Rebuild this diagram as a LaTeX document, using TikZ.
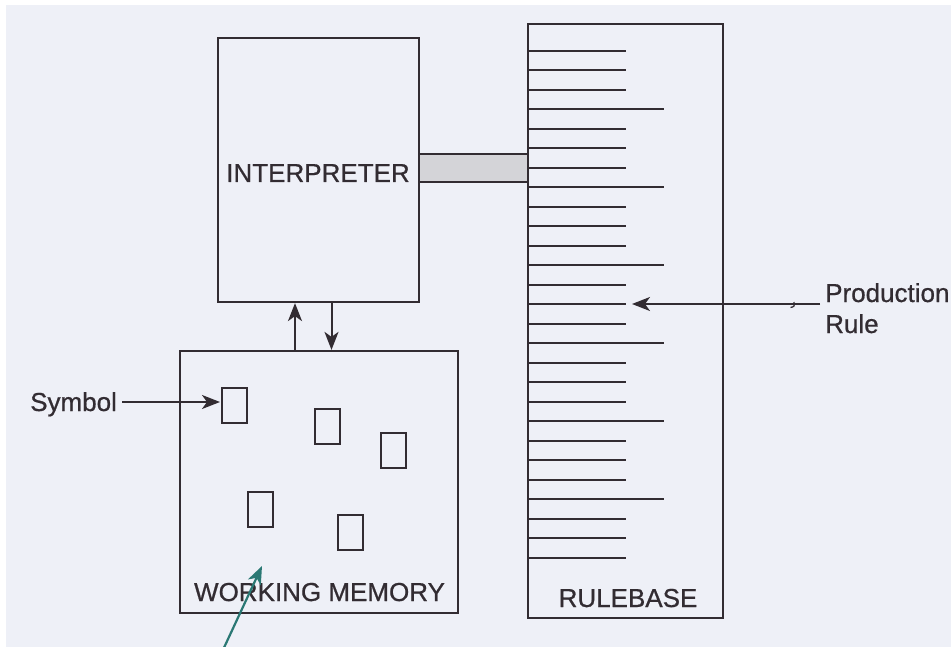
\documentclass[tikz,border=0pt]{standalone}
\usepackage{fontspec}
\setmainfont{Liberation Sans}[FakeBold=0.7]
\usetikzlibrary{arrows.meta}
\definecolor{paper}{RGB}{238,240,247}
\definecolor{ink}{RGB}{50,44,50}
\definecolor{bandgray}{RGB}{212,212,216}
\definecolor{pointer}{RGB}{42,120,116}
\tikzset{
  box/.style={draw=ink, line width=2.2pt, rectangle, inner sep=0pt},
  symbolbox/.style={box, line width=2pt, minimum width=25pt, minimum height=35pt},
  label/.style={text=ink, inner sep=0pt, font=\fontsize{26pt}{31pt}\selectfont},
  arr/.style={draw=ink, line width=2pt, -{Stealth[length=18pt,width=14pt,inset=5pt]}},
  rule/.style={draw=ink, line width=2.2pt},
}
\begin{document}
\begin{tikzpicture}[x=1pt,y=-1pt]
  % page and scanned sheet
  \fill[white] (0,0) rectangle (951,647);
  \fill[paper] (6,5) rectangle (951,647);
  \useasboundingbox (0,0) rectangle (951,647);

  % main blocks
  \node[box, minimum width=201pt, minimum height=264pt] (interp) at (318.5,170) {};
  \node[box, minimum width=195pt, minimum height=594pt] (rulebase) at (625.5,321) {};
  \node[box, minimum width=278pt, minimum height=262pt] (wm) at (319,482) {};

  % shaded link between interpreter and rulebase
  \node[box, fill=bandgray, line width=2pt, minimum width=109pt, minimum height=28.5pt] (band) at (473.5,168.2) {};

  % block titles
  \node[label, anchor=base] (interplabel) at (318,182) {INTERPRETER};
  \node[label, anchor=base] (wmlabel) at (319.5,601) {WORKING MEMORY};
  \node[label, anchor=base] (rblabel) at (628,607) {RULEBASE};

  % production rules: every fourth one is longer
  \foreach \i in {0,...,26}{
    \pgfmathsetmacro{\yy}{50.7+19.5*\i}
    \pgfmathtruncatemacro{\m}{mod(\i,4)}
    \ifnum\m=3
      \draw[rule] (528,\yy) -- (664,\yy);
    \else
      \draw[rule] (528,\yy) -- (626,\yy);
    \fi
  }

  % symbols held in working memory
  \node[symbolbox] (s1) at (234.5,405) {};
  \node[symbolbox] (s2) at (327.7,426) {};
  \node[symbolbox] (s3) at (393,450) {};
  \node[symbolbox] (s4) at (260.5,509) {};
  \node[symbolbox] (s5) at (350.5,532) {};

  % exchange between interpreter and working memory
  \coordinate (upx) at (295,0);
  \coordinate (downx) at (331.5,0);
  \draw[arr] (wm.north -| upx) -- (interp.south -| upx);
  \draw[arr] (interp.south -| downx) -- (wm.north -| downx);

  % annotation: symbol
  \node[label, anchor=base west] (symlabel) at (30,411) {Symbol};
  \coordinate (symtip) at (220,402);
  \draw[arr] (symlabel.east |- symtip) ++(5,0) -- (symtip);

  % annotation: production rule
  \node[label, anchor=base west] (prodlabel) at (825,302) {Production};
  \node[label, anchor=base west] (rulelabel) at (825,333) {Rule};
  \coordinate (prodtip) at (632,304);
  \draw[arr] (prodlabel.west |- prodtip) ++(-5,0) -- (prodtip);
  \draw[draw=ink, line width=1.3pt] (794,302) .. controls (794.5,306.5) .. (790.5,307.5);

  % pointer into working memory
  \coordinate (pointerstart) at (222,652);
  \coordinate (pointertip) at (262,566);
  \draw[draw=pointer, line width=2.2pt, -{Stealth[length=18pt,width=14pt,inset=5pt]}] (pointerstart) -- (pointertip);
\end{tikzpicture}
\end{document}
